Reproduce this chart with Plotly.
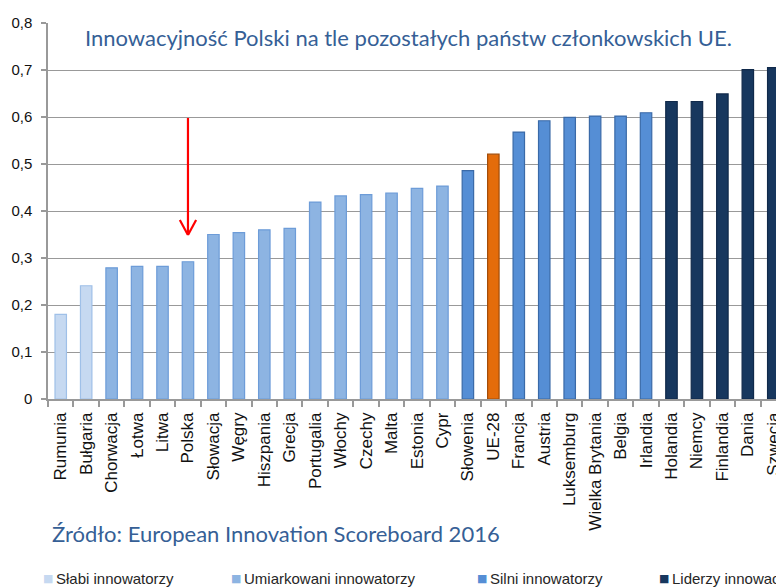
import plotly.graph_objects as go

categories = ["Rumunia", "Bułgaria", "Chorwacja", "Łotwa", "Litwa", "Polska", "Słowacja",
              "Węgry", "Hiszpania", "Grecja", "Portugalia", "Włochy", "Czechy", "Malta",
              "Estonia", "Cypr", "Słowenia", "UE-28", "Francja", "Austria", "Luksemburg",
              "Wielka Brytania", "Belgia", "Irlandia", "Holandia", "Niemcy", "Finlandia",
              "Dania", "Szwecja"]
values = [0.180, 0.241, 0.279, 0.282, 0.282, 0.292, 0.350, 0.354, 0.360, 0.363,
          0.419, 0.432, 0.435, 0.438, 0.448, 0.453, 0.486, 0.521, 0.568, 0.592,
          0.599, 0.602, 0.602, 0.609, 0.633, 0.633, 0.649, 0.701, 0.705]
groups = ["slabi", "slabi"] + ["umiark"] * 14 + ["silni", "ue"] + ["silni"] * 6 + ["liderzy"] * 5

group_names = {"slabi": "Słabi innowatorzy", "umiark": "Umiarkowani innowatorzy",
               "silni": "Silni innowatorzy", "liderzy": "Liderzy innowacji"}
fill = {"slabi": "#c6d9f1", "umiark": "#8db4e2", "silni": "#558ed5",
        "liderzy": "#17375e", "ue": "#e46c0a"}
edge = {"slabi": "#9fc0e8", "umiark": "#6d9cd8", "silni": "#3a6aa8",
        "liderzy": "#10294a", "ue": "#a24c08"}

title_text = "Innowacyjność Polski na tle pozostałych państw członkowskich UE."
source_text = "Źródło: European Innovation Scoreboard 2016"
highlight = "Polska"

fig = go.Figure()
fig.add_trace(go.Bar(
    x=categories, y=values,
    marker=dict(color=[fill[g] for g in groups],
                line=dict(color=[edge[g] for g in groups], width=1.2)),
    showlegend=False,
))

# the page body adds an 8px offset; layout works in figure pixels = screen - 8
OFF = 8
W, H = 784, 588
L, T = 48 - OFF, 23 - OFF
R = W - (786 - OFF)
B = H - (399 - OFF)
pw = W - L - R
ph = H - T - B

def px(x):
    return (x - OFF - L) / pw

def py(y):
    return 1 - (y - OFF - T) / ph

fig.update_layout(
    width=W, height=H,
    margin=dict(l=L, r=R, t=T, b=B, autoexpand=False),
    paper_bgcolor="white", plot_bgcolor="white",
    separators=",.",
    bargap=0.55,
    showlegend=False,
    font=dict(family="Liberation Sans, Arial", color="#1a1a1a"),
)
fig.update_yaxes(range=[0, 0.8], dtick=0.1, showgrid=True, gridcolor="#999999", gridwidth=1.4,
                 showline=True, linecolor="#999999", linewidth=1.5,
                 ticks="outside", ticklen=5, tickcolor="#999999", tickwidth=1.5,
                 ticklabelstandoff=6, zeroline=False, automargin=False,
                 tickfont=dict(size=15, family="Liberation Sans, Arial", color="#111111"))
fig.update_xaxes(type="category", showgrid=False, showline=True, linecolor="#999999", linewidth=1.5,
                 ticks="outside", tickson="boundaries", ticklen=6, tickcolor="#999999", tickwidth=1.5,
                 tickangle=-90, automargin=False, ticklabelstandoff=5,
                 tickfont=dict(size=17, family="Liberation Sans, Arial", color="#111111"))

# white box behind the title hiding the top gridline
fig.add_shape(type="rect", xref="paper", yref="paper", x0=px(63), x1=px(767), y0=py(60), y1=py(4),
              fillcolor="white", line=dict(width=0), layer="between")

fig.add_annotation(text=title_text, xref="paper", yref="paper", x=px(83), y=py(37),
                   xanchor="left", yanchor="middle", showarrow=False,
                   font=dict(family="Lato", size=22, color="#365f96"))
fig.add_annotation(text=source_text, xref="paper", yref="paper", x=px(50), y=py(533),
                   xanchor="left", yanchor="middle", showarrow=False,
                   font=dict(family="Lato", size=22, color="#365f96"))

# red arrow pointing at Polska
idx = categories.index(highlight)
v = values[idx]
tip = v + 0.057
tail = v + 0.306
arm_h = 0.032
arm_w = 0.32
red = "#ff0000"
fig.add_shape(type="line", xref="x", yref="y", x0=idx, x1=idx, y0=tail, y1=tip,
              line=dict(color=red, width=2.2))
fig.add_shape(type="line", xref="x", yref="y", x0=idx - arm_w, x1=idx, y0=tip + arm_h, y1=tip,
              line=dict(color=red, width=2.2))
fig.add_shape(type="line", xref="x", yref="y", x0=idx + arm_w, x1=idx, y0=tip + arm_h, y1=tip,
              line=dict(color=red, width=2.2))

# legend
legend_keys = ["slabi", "umiark", "silni", "liderzy"]
legend_x = [42, 230, 476, 658]
for k, lx in zip(legend_keys, legend_x):
    fig.add_annotation(text="■", xref="paper", yref="paper", x=px(lx - 1), y=py(578),
                       xanchor="left", yanchor="middle", showarrow=False,
                       font=dict(family="DejaVu Sans", size=11, color=fill[k]))
    fig.add_annotation(text=group_names[k], xref="paper", yref="paper", x=px(lx + 12), y=py(578),
                       xanchor="left", yanchor="middle", showarrow=False,
                       font=dict(family="Liberation Sans, Arial", size=15, color="#262626"))

fig.write_html("out.html")
